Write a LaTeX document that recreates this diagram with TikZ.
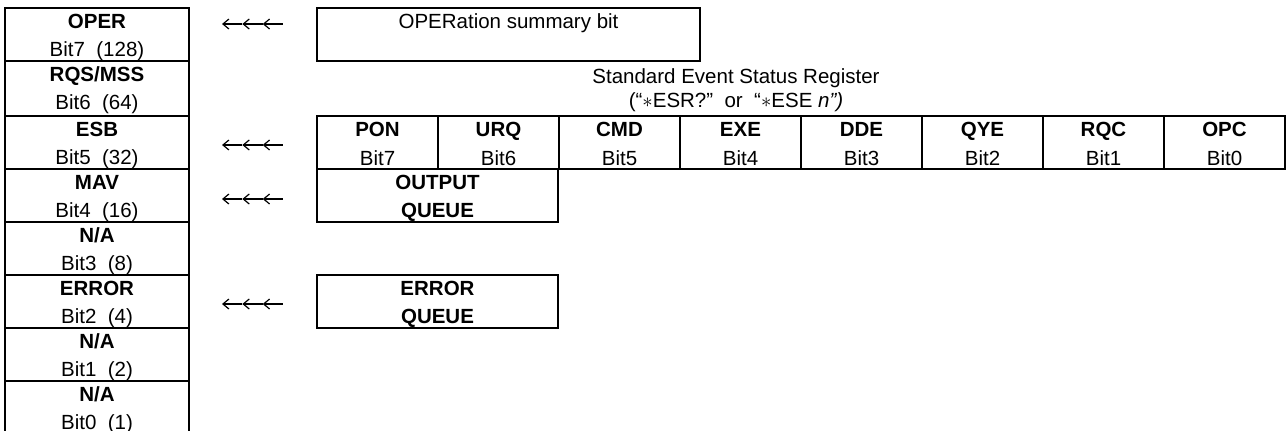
\documentclass[tikz,border=0pt]{standalone}
\usepackage{fontspec}
\setmainfont{Liberation Sans}
\usetikzlibrary{arrows.meta}

\tikzset{
  cell/.style={draw, line width=2.5pt, inner sep=0pt, outer sep=0pt, anchor=north west},
  lbl/.style={inner sep=0pt, anchor=base, font=\fontsize{20.5}{24}\selectfont},
  hdr/.style={lbl, font=\fontsize{20.5}{24}\selectfont\bfseries},
  feed/.style={line width=1.2pt, -{Straight Barb[length=6pt, width=10pt, line width=1.2pt]}},
}

\begin{document}
\begin{tikzpicture}[x=1pt, y=-1pt]
    \useasboundingbox (0,0) rectangle (1286,431);

    % Status byte
    \foreach \i/\nm/\bit/\top/\ht in {7/OPER/{Bit7\ \ (128)}/8/53, 6/{RQS/MSS}/{Bit6\ \ (64)}/61/55,
        5/ESB/{Bit5\ \ (32)}/116/53, 4/MAV/{Bit4\ \ (16)}/169/53, 3/{N/A}/{Bit3\ \ (8)}/222/53,
        2/ERROR/{Bit2\ \ (4)}/275/53, 1/{N/A}/{Bit1\ \ (2)}/328/53, 0/{N/A}/{Bit0\ \ (1)}/381/53} {
        \node[cell, minimum width=184, minimum height=\ht] (sb\i) at (5,\top) {};
        \node[hdr] (sbn\i) at (97,\top+20) {\nm};
        \node[lbl] (sbb\i) at (97,\top+48) {\bit};
    }

    % Arrows (three in a row)
    \foreach \n/\y in {7/24, 5/145, 4/199, 2/304} {
        \foreach \k in {0,1,2,3}
            \coordinate (ar\n-\k) at (222+20.33*\k,\y);
        \draw[feed] (ar\n-1) -- (ar\n-0);
        \draw[feed] (ar\n-2) -- (ar\n-1);
        \draw[feed] (ar\n-3) -- (ar\n-2);
    }

    % OPERation box
    \node[cell, minimum width=383, minimum height=53] (opbox) at (317,8) {};
    \node[lbl] (optxt) at (508.5,28) {OPERation summary bit};

    % Standard Event Status Register
    \node[lbl] (esrt) at (736,83) {Standard Event Status Register};
    \node[lbl] (esrc) at (736,107) {(“$\ast$ESR?”\ \ or\ \ “$\ast$ESE \textit{n”)}};
    \foreach \j/\nm in {7/PON, 6/URQ, 5/CMD, 4/EXE, 3/DDE, 2/QYE, 1/RQC, 0/OPC} {
        \node[cell, minimum width=121, minimum height=53] (esr\j) at (317+121*7-121*\j,116) {};
        \node[hdr] (esrn\j) at (377.5+121*7-121*\j,136) {\nm};
        \node[lbl] (esrb\j) at (377.5+121*7-121*\j,165.5) {Bit\j};
    }

    % Queues
    \node[cell, minimum width=241, minimum height=53] (outq) at (317,169) {};
    \node[hdr] (outqa) at (437.5,189) {OUTPUT};
    \node[hdr] (outqb) at (437.5,217) {QUEUE};
    \node[cell, minimum width=241, minimum height=53] (errq) at (317,275) {};
    \node[hdr] (errqa) at (437.5,295) {ERROR};
    \node[hdr] (errqb) at (437.5,323) {QUEUE};
\end{tikzpicture}
\end{document}
